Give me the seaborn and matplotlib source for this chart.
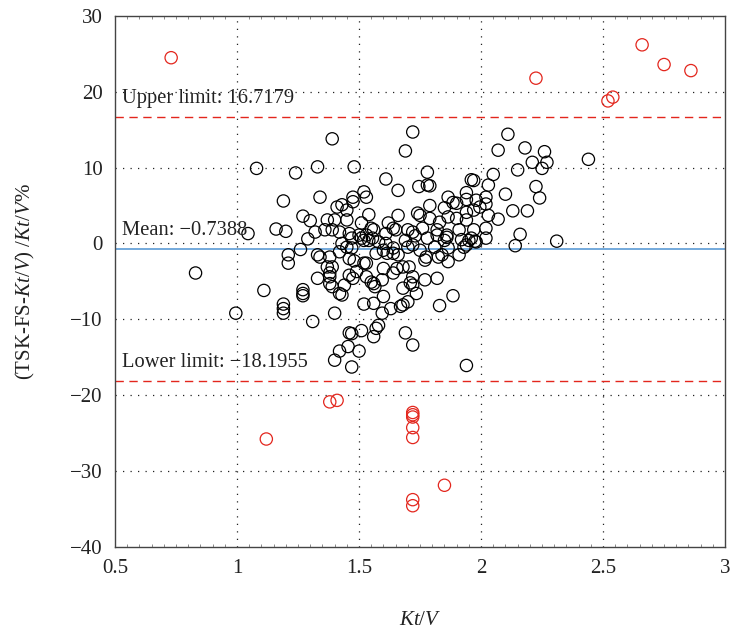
import numpy as np
import pandas as pd
import matplotlib
matplotlib.use("Agg")
import matplotlib.pyplot as plt
import seaborn as sns
from matplotlib.ticker import MultipleLocator

# ---- data ----
black_x = [0.83, 0.995, 1.045, 1.08, 1.11, 1.16, 1.19, 1.20, 1.21, 1.21, 1.19, 1.19, 1.19,
           1.24, 1.26, 1.27, 1.27, 1.27, 1.27, 1.29, 1.30, 1.31, 1.32, 1.33, 1.34, 1.33,
           1.34, 1.33, 1.36, 1.37, 1.39, 1.40, 1.41, 1.38, 1.37, 1.39, 1.38, 1.38, 1.39,
           1.38, 1.40, 1.42, 1.43, 1.39, 1.42, 1.43, 1.45, 1.47, 1.42, 1.46, 1.48, 1.45,
           1.45, 1.475, 1.475, 1.48, 1.46, 1.50, 1.53, 1.51, 1.52, 1.53, 1.54, 1.43, 1.46,
           1.475, 1.49, 1.52, 1.44, 1.40, 1.42, 1.455, 1.46, 1.47, 1.51, 1.47, 1.50, 1.52,
           1.56, 1.57, 1.58, 1.56, 1.595, 1.63, 1.67, 1.70, 1.68, 1.60, 1.69, 1.72, 1.94,
           1.83, 1.885, 1.735, 1.72, 1.72, 1.77, 1.82, 1.705, 1.68, 1.655, 1.64, 1.60,
           1.595, 1.56, 1.55, 1.565, 1.68, 1.71, 1.53, 1.53, 1.57, 1.615, 1.66, 1.77,
           1.825, 1.865, 1.91, 1.81, 1.72, 1.70, 1.64, 1.61, 1.52, 1.555, 1.56, 1.61,
           1.64, 1.70, 1.72, 1.76, 1.79, 1.82, 1.74, 1.75, 1.66, 1.79, 1.72, 1.69, 1.61,
           1.66, 1.78, 1.745, 1.78, 1.79, 1.62, 1.55, 1.65, 1.78, 1.86, 1.82, 1.73, 1.69,
           1.58, 1.54, 1.51, 1.47, 1.60, 1.64, 1.75, 1.775, 1.84, 1.865,
           2.11, 2.07, 2.18, 2.26, 2.21, 2.27, 2.25, 2.15, 2.05, 2.03, 1.96, 1.97, 1.94,
           1.94, 1.865, 1.885, 1.90, 2.02, 2.02, 1.98, 1.995, 2.10, 2.225, 2.24, 2.44,
           2.13, 2.19, 2.07, 2.03, 2.02, 2.02, 2.16, 2.14, 2.31, 1.975, 1.97, 1.94, 1.91,
           1.92, 1.90, 1.865, 1.85, 1.83, 1.86, 1.95, 1.93, 1.85, 1.97, 1.96, 1.98, 1.94,
           1.94]
black_y = [-3.9, -9.2, 1.3, 9.9, -6.2, 1.9, 5.6, 1.6, -1.5, -2.6, -8.0, -8.6, -9.2,
           9.3, -0.8, 3.6, -6.1, -6.6, -6.9, 0.6, 3.0, -10.3, 1.5, 10.1, 6.1, -1.5,
           -1.8, -4.6, 1.8, 3.1, 13.8, 3.1, 4.8, -1.8, -3.1, -3.1, -3.9, -4.4, -5.7,
           -5.3, -9.2, -6.6, -6.8, 1.8, 1.5, 0.0, -0.5, -0.6, -1.1, -2.0, -2.3, 3.1,
           4.4, 6.1, 5.5, 10.1, 1.3, 1.1, 1.1, 2.7, 6.8, 6.1, 3.8, 5.1, -4.2,
           -4.6, -3.7, -2.6, -5.5, -15.4, -14.2, -13.6, -11.8, -11.9, -11.5, -16.3, -14.2, -8.0,
           -7.9, -11.2, -10.8, -12.3, -9.2, -8.6, -8.3, -7.7, -8.1, -7.0, -11.8, -13.4, -16.1,
           -8.2, -6.9, -6.6, -5.5, -4.4, -4.8, -4.6, -3.1, -3.1, -3.3, -3.9, -3.3,
           -4.8, -5.3, -5.1, -5.7, -5.9, -5.2, -4.4, -2.6, -1.3, -1.3, -1.5, -2.2,
           -1.8, -2.4, -1.5, -0.5, -0.2, -0.5, -0.6, 0.0, 0.4, 0.7, 1.8, 1.3,
           2.0, 1.8, 1.5, 2.0, 3.3, 1.8, 4.0, 3.7, 3.7, 5.0, 14.7, 12.2, 8.5,
           7.0, 9.4, 7.5, 7.7, 7.6, 2.7, 2.0, 1.8, 0.7, 1.1, 1.1, 1.0, 0.4,
           0.2, 0.4, 0.7, 0.7, -0.9, -1.3, -0.9, -1.8, -1.5, -0.6,
           14.4, 12.3, 12.6, 12.1, 10.7, 10.7, 9.9, 9.7, 9.1, 7.7, 8.4, 8.3, 6.7,
           5.8, 6.1, 5.4, 5.3, 6.1, 5.2, 5.7, 4.8, 6.5, 7.5, 6.0, 11.1,
           4.3, 4.3, 3.2, 3.7, 2.0, 0.7, 1.2, -0.3, 0.3, 0.3, 1.8, 3.1, 1.8,
           0.5, 3.3, 3.5, 4.7, 2.8, 0.8, 0.4, -0.5, 0.4, 4.4, 0.7, 0.2, -0.2,
           4.1]

red_x = [0.73, 2.225, 2.52, 2.54, 2.66, 2.75, 2.86, 1.12, 1.38, 1.41,
         1.72, 1.72, 1.72, 1.72, 1.72, 1.72, 1.72, 1.85]
red_y = [24.5, 21.8, 18.8, 19.3, 26.2, 23.6, 22.8, -25.8, -20.9, -20.7,
         -22.3, -22.6, -22.9, -24.3, -25.6, -33.8, -34.6, -31.9]

mean_diff = -0.7388
upper_limit = 16.7179
lower_limit = -18.1955

x_ticks = [0.5, 1, 1.5, 2, 2.5, 3]
x_tick_labels = ["0.5", "1", "1.5", "2", "2.5", "3"]
y_ticks = [-40, -30, -20, -10, 0, 10, 20, 30]
y_tick_labels = ["\u221240", "\u221230", "\u221220", "\u221210", "0", "10", "20", "30"]

# ---- style ----
sns.set_theme(style="white")
plt.rcParams['font.family'] = ['Liberation Serif', 'DejaVu Serif']
plt.rcParams['mathtext.fontset'] = 'custom'
plt.rcParams['mathtext.rm'] = 'Liberation Serif'
plt.rcParams['mathtext.it'] = 'Liberation Serif:italic'

df_black = pd.DataFrame({"x": black_x, "y": black_y})
df_red = pd.DataFrame({"x": red_x, "y": red_y})

fig = plt.figure(figsize=(7.35, 6.33), dpi=100)
ax = fig.add_axes([0.1565, 0.1364, 0.83, 0.8383])

# grid
for xv in x_ticks[1:-1]:
    ax.axvline(xv, color="#222222", lw=0.9, ls=(0, (1, 5)), zorder=0)
for yv in y_ticks[1:-1]:
    ax.axhline(yv, color="#222222", lw=0.9, ls=(0, (1, 5)), zorder=0)

sns.scatterplot(data=df_black, x="x", y="y", ax=ax, s=78, marker="o",
                facecolors="none", edgecolor="black", linewidth=0.9, zorder=3)
sns.scatterplot(data=df_red, x="x", y="y", ax=ax, s=78, marker="o",
                facecolors="none", edgecolor="#e3261d", linewidth=0.9, zorder=3)

ax.axhline(mean_diff, color="#5b9bd5", lw=1.2, zorder=2)
ax.axhline(upper_limit, color="#e3261d", lw=1.0, ls=(0, (6, 4)), zorder=2)
ax.axhline(lower_limit, color="#e3261d", lw=1.0, ls=(0, (6, 4)), zorder=2)

ax.text(0.53, upper_limit + 1.2, "Upper limit: 16.7179", fontsize=14.8, color="#222222",
        va="bottom", ha="left")
ax.text(0.53, mean_diff + 1.2, "Mean: \u22120.7388", fontsize=14.8, color="#222222",
        va="bottom", ha="left")
ax.text(0.53, lower_limit + 1.2, "Lower limit: \u221218.1955", fontsize=14.8, color="#222222",
        va="bottom", ha="left")

ax.set_xlim(0.5, 3)
ax.set_ylim(-40, 30)
ax.set_xticks(x_ticks)
ax.set_xticklabels(x_tick_labels)
ax.set_yticks(y_ticks)
ax.set_yticklabels(y_tick_labels)
ax.xaxis.set_minor_locator(MultipleLocator(0.05))
ax.tick_params(axis="both", which="major", direction="out", length=4, width=0.9,
               colors="#222222", labelsize=15, pad=5)
ax.tick_params(axis="x", which="minor", direction="in", length=2, width=0.6,
               top=True, bottom=True, colors="#777777")
ax.tick_params(axis="x", which="major", top=False)

for sp in ax.spines.values():
    sp.set_color("#444444")
    sp.set_linewidth(1.0)

ax.set_xlabel(r"$\mathit{Kt/V}$", fontsize=15, color="#222222", labelpad=24)
ax.set_ylabel(r"(TSK-FS-$\mathit{Kt/V}$) /$\mathit{Kt/V}$%", fontsize=15,
              color="#222222", labelpad=24)

fig.savefig("out.png", dpi=100)
